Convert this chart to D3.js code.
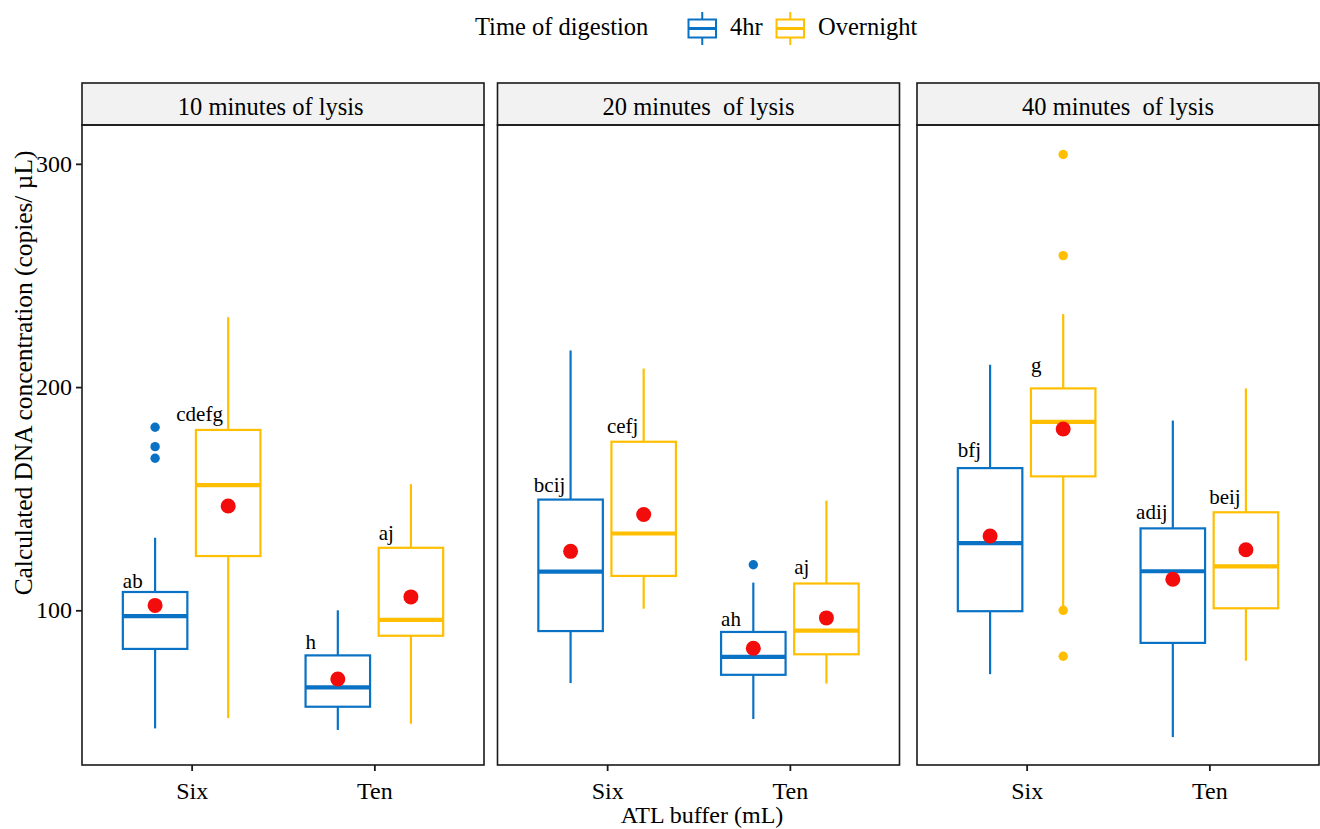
<!DOCTYPE html>
<html>
<head>
<meta charset="utf-8">
<script src="https://cdn.jsdelivr.net/npm/d3@7"></script>
<style>
  body { margin: 0; background: #fff; }
  svg text { font-family: "Liberation Serif", "Times New Roman", serif; fill: #000; white-space: pre; }
</style>
</head>
<body>
<div id="chart"></div>
<script>
// facets, x categories and fill groups
var facets = ["10 minutes of lysis    ", "20 minutes  of lysis", "40 minutes  of lysis"];
var buffers = ["Six", "Ten"];
var times = ["4hr", "Overnight"];
var yTicks = [100, 200, 300];

// one entry per box, ordered facet -> buffer -> time
var whiskerLow  = [47.1, 51.7, 46.4, 49.2,  67.4, 100.7, 51.3, 67.2,  71.4, 101.5, 43.2, 77.4];
var q1          = [82.7, 124.3, 56.8, 88.6,  90.7, 115.4, 71.1, 80.3,  99.6, 160.0, 85.4, 100.9];
var medians     = [97.4, 156.1, 65.5, 95.7,  117.3, 134.4, 79.1, 90.9,  130.1, 184.4, 117.5, 119.7];
var q3          = [108.2, 180.8, 79.8, 128.0,  149.6, 175.5, 90.3, 112.0,  163.7, 199.4, 136.7, 143.9];
var whiskerHigh = [132.5, 231.3, 100.0, 156.5,  216.4, 208.3, 112.4, 149.1,  210.0, 232.7, 185.0, 199.4];
var means       = [102.2, 146.7, 69.2, 106.0,  126.4, 142.9, 83.0, 96.6,  133.3, 181.2, 113.9, 127.1];
var outliers    = [[182, 173.3, 168.1], [], [], [],  [], [], [120.4], [],  [], [304.2, 258.9, 100, 79.4], [], []];
var letters     = ["ab", "cdefg", "h", "aj",  "bcij", "cefj", "ah", "aj",  "bfj", "g", "adij", "beij"];
var letterY     = [110, 184.9, 82.5, 131.5,  153, 179.3, 93.1, 116.2,  168.5, 206.8, 140.9, 147.5];

var W = 1320, H = 829;
var panelLeft = [82, 497.5, 917];
var panelW = 402;
var panelTop = 125, panelBottom = 765;
var stripTop = 83;

var color = d3.scaleOrdinal().domain(times).range(["#0A72C4", "#FFBF00"]);

var svg = d3.select("#chart").append("svg")
  .attr("width", W)
  .attr("height", H);

var y = d3.scaleLinear()
  .domain([30.7, 317.4])
  .range([panelBottom, panelTop]);

var boxes = [];
facets.forEach(function(f, fi) {
  buffers.forEach(function(b, bi) {
    times.forEach(function(t, ti) {
      var i = fi * 4 + bi * 2 + ti;
      boxes.push({
        facet: fi, buffer: b, time: t,
        lo: whiskerLow[i], q1: q1[i], med: medians[i], q3: q3[i], hi: whiskerHigh[i],
        mean: means[i], out: outliers[i], letter: letters[i], ly: letterY[i]
      });
    });
  });
});

facets.forEach(function(f, fi) {
  var x0 = panelLeft[fi];
  var x = d3.scalePoint()
    .domain(buffers)
    .range([x0, x0 + panelW])
    .padding(0.6);
  var step = x.step();
  var dodge = 0.2 * step, boxW = 0.353 * step;

  var g = svg.append("g");

  // strip
  g.append("rect")
    .attr("x", x0).attr("y", stripTop)
    .attr("width", panelW).attr("height", panelTop - stripTop)
    .attr("fill", "#F2F2F2")
    .attr("stroke", "#1a1a1a").attr("stroke-width", 1.6);
  g.append("text")
    .attr("x", x0 + panelW / 2).attr("y", 115)
    .attr("text-anchor", "middle")
    .attr("font-size", 24.5)
    .text(f);

  // panel border
  g.append("rect")
    .attr("x", x0).attr("y", panelTop)
    .attr("width", panelW).attr("height", panelBottom - panelTop)
    .attr("fill", "none")
    .attr("stroke", "#1a1a1a").attr("stroke-width", 1.6);

  // x axis
  var xa = g.append("g")
    .attr("transform", "translate(0," + panelBottom + ")")
    .call(d3.axisBottom(x).tickSize(6).tickPadding(11));
  xa.select(".domain").remove();
  xa.selectAll("line").attr("stroke", "#1a1a1a").attr("stroke-width", 1.8);
  xa.selectAll("text").attr("font-size", 24).attr("font-family", "Liberation Serif").attr("fill", "#000");

  if (fi === 0) {
    var ya = g.append("g")
      .attr("transform", "translate(" + x0 + ",0)")
      .call(d3.axisLeft(y).tickValues(yTicks).tickSize(6).tickPadding(4));
    ya.select(".domain").remove();
    ya.selectAll("line").attr("stroke", "#1a1a1a").attr("stroke-width", 1.8);
    ya.selectAll("text").attr("font-size", 24).attr("font-family", "Liberation Serif").attr("fill", "#000");
  }

  var pb = boxes.filter(function(d) { return d.facet === fi; });
  pb.forEach(function(d) {
    var cx = x(d.buffer) + (d.time === "4hr" ? -dodge : dodge);
    var c = color(d.time);
    var bg = g.append("g");
    // whiskers
    bg.append("line")
      .attr("x1", cx).attr("x2", cx)
      .attr("y1", y(d.q3)).attr("y2", y(d.hi))
      .attr("stroke", c).attr("stroke-width", 2.2);
    bg.append("line")
      .attr("x1", cx).attr("x2", cx)
      .attr("y1", y(d.q1)).attr("y2", y(d.lo))
      .attr("stroke", c).attr("stroke-width", 2.2);
    // box
    bg.append("rect")
      .attr("x", cx - boxW / 2).attr("y", y(d.q3))
      .attr("width", boxW).attr("height", y(d.q1) - y(d.q3))
      .attr("fill", "#fff")
      .attr("stroke", c).attr("stroke-width", 2.2);
    bg.append("line")
      .attr("x1", cx - boxW / 2).attr("x2", cx + boxW / 2)
      .attr("y1", y(d.med)).attr("y2", y(d.med))
      .attr("stroke", c).attr("stroke-width", 4.2);
    // outliers
    bg.selectAll("circle.out")
      .data(d.out)
      .join("circle")
      .attr("class", "out")
      .attr("cx", cx).attr("cy", function(v) { return y(v); })
      .attr("r", 4.7)
      .attr("fill", c);
    // mean
    bg.append("circle")
      .attr("cx", cx).attr("cy", y(d.mean))
      .attr("r", 7.5)
      .attr("fill", "#F20C0C");
    // letter
    var t = bg.append("text")
      .attr("y", y(d.ly))
      .attr("font-size", 21)
      .text(d.letter);
    var w = t.node().getComputedTextLength();
    var left = cx - boxW / 2;
    t.attr("x", left + Math.min(0, 27 - w));
  });
});

// axis titles
svg.append("text")
  .attr("x", 702)
  .attr("y", 823)
  .attr("text-anchor", "middle")
  .attr("font-size", 24)
  .text("ATL buffer (mL)");

svg.append("text")
  .attr("transform", "translate(32,373) rotate(-90)")
  .attr("text-anchor", "middle")
  .attr("font-size", 25.4)
  .text("Calculated DNA concentration (copies/ \u00B5L)");

// legend
var legend = svg.append("g");
legend.append("text")
  .attr("x", 475).attr("y", 35)
  .attr("font-size", 24.5)
  .text("Time of digestion");

var keyX = [688.5, 776.5];
times.forEach(function(t, i) {
  var kx = keyX[i], kw = 27.5, c = color(t);
  var k = legend.append("g");
  k.append("line")
    .attr("x1", kx + kw / 2).attr("x2", kx + kw / 2)
    .attr("y1", 12).attr("y2", 45)
    .attr("stroke", c).attr("stroke-width", 2);
  k.append("rect")
    .attr("x", kx).attr("y", 19.5)
    .attr("width", kw).attr("height", 18)
    .attr("fill", "#fff")
    .attr("stroke", c).attr("stroke-width", 2);
  k.append("line")
    .attr("x1", kx).attr("x2", kx + kw)
    .attr("y1", 28.5).attr("y2", 28.5)
    .attr("stroke", c).attr("stroke-width", 3);
  legend.append("text")
    .attr("x", kx + kw + 14).attr("y", 35)
    .attr("font-size", 24.5)
    .text(t);
});
</script>
</body>
</html>
